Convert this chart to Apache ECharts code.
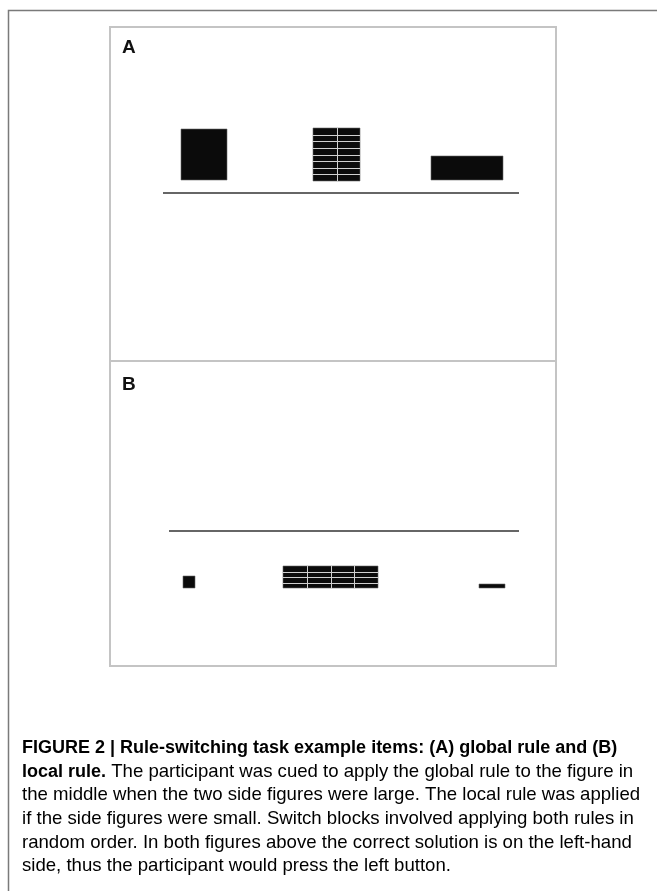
<!DOCTYPE html>
<html>
<head>
<meta charset="utf-8">
<script src="https://cdn.jsdelivr.net/npm/echarts@6/dist/echarts.min.js"></script>
<style>
  html, body { margin: 0; padding: 0; background: #fff; }
  #chart { width: 657px; height: 891px; }
</style>
</head>
<body>
<div id="chart"></div>
<script>
// figure extents, in px from the panel's left edge (x) and above the baseline (y)
// [x0, x1, yBottom, yTop, columns, rows]
const panelAFigures = [
  [71, 117, 13, 64, 1, 1],
  [203, 250, 12, 65, 2, 8],
  [321, 393, 13, 37, 1, 1]
]
const panelBFigures = [
  [73, 85, -57, -45, 1, 1],
  [173, 268, -57, -35, 4, 4],
  [369, 395, -57, -53, 1, 1]
]
const panelABaseline = [[53, 0], [409, 0]]
const panelBBaseline = [[59, 0], [409, 0]]
const panelLabels = ['A', 'B']

const captionLines = [
  '{b|FIGURE 2 | Rule-switching task example items: (A) global rule and (B)}',
  '{b|local rule.}{n| The participant was cued to apply the global rule to the figure in}',
  '{n|the middle when the two side figures were large. The local rule was applied}',
  '{n|if the side figures were small. Switch blocks involved applying both rules in}',
  '{n|random order. In both figures above the correct solution is on the left-hand}',
  '{n|side, thus the participant would press the left button.}'
]

const chart = echarts.init(document.getElementById('chart'), null, { renderer: 'canvas' })

function renderFigure(params, api) {
  const p0 = api.coord([api.value(0), api.value(3)])
  const p1 = api.coord([api.value(1), api.value(2)])
  const x = p0[0]
  const y = p0[1]
  const w = p1[0] - p0[0]
  const h = p1[1] - p0[1]
  const cols = api.value(4)
  const rows = api.value(5)
  const children = [{
    type: 'rect',
    shape: { x: x, y: y, width: w, height: h },
    style: { fill: '#0b0b0b', stroke: '#6a6a6a', lineWidth: 0.6 }
  }]
  for (let i = 1; i < cols; i++) {
    const lx = Math.round(x + w * i / cols) + 0.5
    children.push({
      type: 'line',
      shape: { x1: lx, y1: y, x2: lx, y2: y + h },
      style: { stroke: '#d0d0d0', lineWidth: 1 }
    })
  }
  for (let j = 1; j < rows; j++) {
    const ly = Math.round(y + h * j / rows) + 0.5
    children.push({
      type: 'line',
      shape: { x1: x, y1: ly, x2: x + w, y2: ly },
      style: { stroke: '#d0d0d0', lineWidth: 1 }
    })
  }
  return { type: 'group', children: children }
}

const labelStyle = { fontFamily: 'Liberation Sans', fontWeight: 'bold', fontSize: 19, color: '#111' }

const option = {
  animation: false,
  backgroundColor: '#fff',
  title: [
    { text: panelLabels[0], left: 117, top: 33, textStyle: labelStyle },
    { text: panelLabels[1], left: 117, top: 370, textStyle: labelStyle }
  ],
  grid: [
    { left: 110, top: 27, width: 446, height: 334, show: true, borderColor: '#c4c4c4', borderWidth: 2, backgroundColor: '#fff' },
    { left: 110, top: 361, width: 446, height: 305, show: true, borderColor: '#c4c4c4', borderWidth: 2, backgroundColor: '#fff' }
  ],
  xAxis: [
    { type: 'value', gridIndex: 0, min: 0, max: 446, show: false },
    { type: 'value', gridIndex: 1, min: 0, max: 446, show: false }
  ],
  yAxis: [
    { type: 'value', gridIndex: 0, min: -168, max: 166, show: false },
    { type: 'value', gridIndex: 1, min: -135, max: 170, show: false }
  ],
  series: [
    {
      type: 'line', xAxisIndex: 0, yAxisIndex: 0, data: panelABaseline,
      symbol: 'none', lineStyle: { color: '#333', width: 1.6 }, silent: true
    },
    {
      type: 'line', xAxisIndex: 1, yAxisIndex: 1, data: panelBBaseline,
      symbol: 'none', lineStyle: { color: '#333', width: 1.6 }, silent: true
    },
    {
      type: 'custom', xAxisIndex: 0, yAxisIndex: 0, data: panelAFigures,
      renderItem: renderFigure, silent: true
    },
    {
      type: 'custom', xAxisIndex: 1, yAxisIndex: 1, data: panelBFigures,
      renderItem: renderFigure, silent: true
    }
  ],
  graphic: [
    {
      type: 'polyline',
      shape: { points: [[8.5, 891], [8.5, 10.5], [657, 10.5]] },
      style: { stroke: '#7a7a7a', lineWidth: 1.5, fill: null }
    },
    {
      type: 'text',
      left: 22,
      top: 736,
      style: {
        text: captionLines.join('\n'),
        lineHeight: 23.7,
        rich: {
          b: { fontFamily: 'Liberation Sans', fontWeight: 'bold', fontSize: 18, color: '#1a1a1a', lineHeight: 23.7 },
          n: { fontFamily: 'Liberation Sans', fontSize: 18.6, color: '#2a2a2a', lineHeight: 23.7 }
        }
      }
    }
  ]
}

chart.setOption(option)
window.addEventListener('resize', () => chart.resize())
</script>
</body>
</html>
